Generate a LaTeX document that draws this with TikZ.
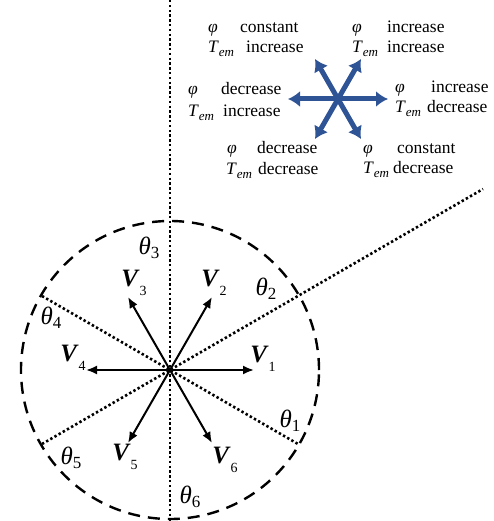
\documentclass[tikz,border=0pt]{standalone}
\usepackage{fontspec}
\setmainfont{Liberation Serif}
\usetikzlibrary{arrows.meta}
\definecolor{starblue}{RGB}{47,84,150}
\newcommand\phv{\textit{φ}}
\newcommand\Tem{\textit{T}\raisebox{-4pt}{\fontsize{13}{13}\selectfont\textit{em}}}
\newcommand\Vlab[1]{\textbf{\textit{V}}\raisebox{-9pt}{\fontsize{14}{14}\selectfont #1}}
\newcommand\Thlab[1]{\textit{θ}\raisebox{-4pt}{\fontsize{17}{17}\selectfont #1}}
\newcommand\Lline[3]{\makebox[#1pt][l]{#2}#3}
\begin{document}
\begin{tikzpicture}[x=1pt,y=-1pt,
  txt/.style={inner sep=0pt, anchor=base west, font=\fontsize{17.5}{20}\selectfont},
  vlab/.style={inner sep=0pt, font=\fontsize{25}{25}\selectfont},
  thlab/.style={inner sep=0pt, font=\fontsize{25}{25}\selectfont},
  vec/.style={line width=2pt, -{Latex[length=11pt,width=9pt]}},
  dotline/.style={line width=2.6pt, dash pattern=on 2.4pt off 2.4pt},
  dashcirc/.style={line width=2.4pt, dash pattern=on 12pt off 8pt},
  bluearr/.style={line width=5pt, draw=starblue,
    {Latex[length=12pt,width=16pt]}-{Latex[length=12pt,width=16pt]}}]
\useasboundingbox (0,0) rectangle (493,521);

% ---- main diagram ----
\coordinate (O) at (170,370);
\draw[dashcirc] (O) circle[radius=149pt];
\coordinate (vt) at (170,0);
\coordinate (vb) at (170,521);
\draw[dotline] (vt) -- (vb);
\coordinate (d30) at (483,189);
\coordinate (d210) at (42,444);
\coordinate (d150) at (42,296);
\coordinate (d330) at (298,444);
\draw[dotline] (d210) -- (d30);
\draw[dotline] (d150) -- (d330);

\coordinate (e1) at (254,370);
\coordinate (e2) at (212,297);
\coordinate (e3) at (128,297);
\coordinate (e4) at (86,370);
\coordinate (e5) at (128,443);
\coordinate (e6) at (212,443);
\foreach \i in {1,...,6} \draw[vec] (O) -- (e\i);

\node[vlab] (v1) at (263,359) {\Vlab{1}};
\node[vlab] (v2) at (214,283) {\Vlab{2}};
\node[vlab] (v3) at (134,283) {\Vlab{3}};
\node[vlab] (v4) at (73,358) {\Vlab{4}};
\node[vlab] (v5) at (125,457) {\Vlab{5}};
\node[vlab] (v6) at (225,460) {\Vlab{6}};

\node[thlab] (t1) at (290,421) {\Thlab{1}};
\node[thlab] (t2) at (266,289) {\Thlab{2}};
\node[thlab] (t3) at (149,248) {\Thlab{3}};
\node[thlab] (t4) at (51,318) {\Thlab{4}};
\node[thlab] (t5) at (71,458) {\Thlab{5}};
\node[thlab] (t6) at (190,497) {\Thlab{6}};

% ---- blue star ----
\coordinate (S) at (338,99);
\coordinate (sl) at (288,99);
\coordinate (sr) at (388,99);
\coordinate (sur) at (361,59);
\coordinate (sdl) at (315,139);
\coordinate (sul) at (315,59);
\coordinate (sdr) at (361,139);
\draw[bluearr] (sl) -- (sr);
\draw[bluearr] (sdl) -- (sur);
\draw[bluearr] (sdr) -- (sul);

% ---- texts ----
\node[txt] (tl1) at (208,33) {\Lline{32}{\phv}{constant}};
\node[txt] (tl2) at (208,53) {\Lline{38}{\Tem}{increase}};
\node[txt] (tr1) at (352,33) {\Lline{35}{\phv}{increase}};
\node[txt] (tr2) at (352,53) {\Lline{35}{\Tem}{increase}};
\node[txt] (ml1) at (188,95) {\Lline{33}{\phv}{decrease}};
\node[txt] (ml2) at (188,117) {\Lline{35}{\Tem}{increase}};
\node[txt] (mr1) at (395,93) {\Lline{36}{\phv}{increase}};
\node[txt] (mr2) at (395,113) {\Lline{32}{\Tem}{decrease}};
\node[txt] (bl1) at (227,154) {\Lline{30}{\phv}{decrease}};
\node[txt] (bl2) at (226,175) {\Lline{32}{\Tem}{decrease}};
\node[txt] (br1) at (363,154) {\Lline{34}{\phv}{constant}};
\node[txt] (br2) at (363,174) {\Lline{30}{\Tem}{decrease}};
\end{tikzpicture}
\end{document}
